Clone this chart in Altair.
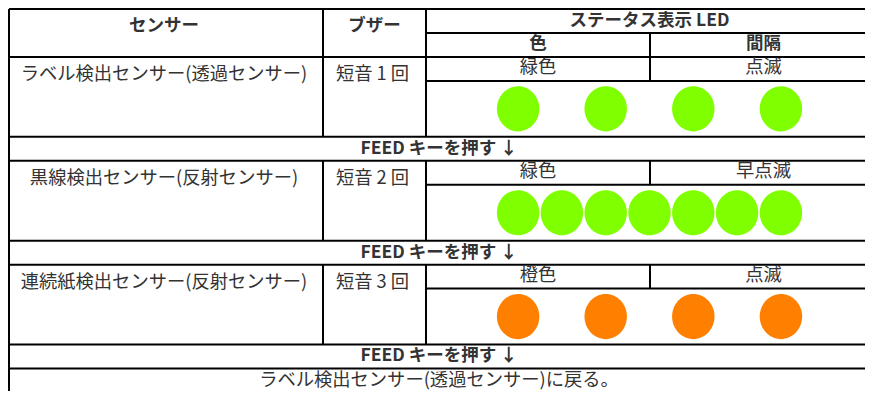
import altair as alt
import pandas as pd

# ---------------- data ----------------
header_sensor = "センサー"
header_buzzer = "ブザー"
header_led = "ステータス表示 LED"
header_color = "色"
header_interval = "間隔"

sensors = ["ラベル検出センサー(透過センサー)", "黒線検出センサー(反射センサー)", "連続紙検出センサー(反射センサー)"]
buzzers = ["短音 1 回", "短音 2 回", "短音 3 回"]
led_color_names = ["緑色", "緑色", "橙色"]
led_intervals = ["点滅", "早点滅", "点滅"]
led_fill = ["#80FF00", "#80FF00", "#FF8000"]
led_patterns = [[1, 0, 1, 0, 1, 0, 1], [1, 1, 1, 1, 1, 1, 1], [1, 0, 1, 0, 1, 0, 1]]
feed_text = "FEED キーを押す ↓"
final_text = "ラベル検出センサー(透過センサー)に戻る。"

# ---------------- layout (page pixels) ----------------
TABLE_LEFT = 5
BORDER_LEFT = 9
COL_B = 323
COL_C = 426
COL_SPLIT = 650
TABLE_RIGHT = 873
VIEW_RIGHT = 865
Y0 = 9
SMALL = 24.6
LED_H = 57.3
SLOT = 43.8
FONT = "Noto Sans CJK JP"
TXT = "#333333"

rules = []
texts_r = []
texts_b = []
dots = []

def hline(y, x1, x2):
    rules.append(dict(x=x1, x2=x2, y=y, y2=y))

def vline(x, y1, y2):
    rules.append(dict(x=x, x2=x, y=y1, y2=y2))

y = Y0
hline(y, BORDER_LEFT, VIEW_RIGHT)
y1 = y + SMALL
hline(y1, COL_C, VIEW_RIGHT)
y2 = y1 + SMALL
hline(y2, BORDER_LEFT, VIEW_RIGHT)
vline(COL_B, y, y2)
vline(COL_C, y, y2)
vline(COL_SPLIT, y1, y2)
texts_b.append(dict(x=(TABLE_LEFT + COL_B) / 2, y=y + 17, t=header_sensor))
texts_b.append(dict(x=(COL_B + COL_C) / 2, y=y + 17, t=header_buzzer))
texts_b.append(dict(x=(COL_C + TABLE_RIGHT) / 2, y=(y + y1) / 2 + 0.5, t=header_led))
texts_b.append(dict(x=(COL_C + COL_SPLIT) / 2, y=(y1 + y2) / 2 - 0.5, t=header_color))
texts_b.append(dict(x=(COL_SPLIT + TABLE_RIGHT) / 2 + 2, y=(y1 + y2) / 2 - 0.5, t=header_interval))

y = y2
for i in range(len(sensors)):
    top = y
    mid = top + SMALL
    bot = mid + LED_H
    hline(mid, COL_C, VIEW_RIGHT)
    vline(COL_B, top, bot)
    vline(COL_C, top, bot)
    vline(COL_SPLIT, top, mid)
    texts_r.append(dict(x=(TABLE_LEFT + COL_B) / 2, y=top + 18.5, t=sensors[i]))
    texts_r.append(dict(x=(COL_B + COL_C) / 2 - 2, y=top + 18.5, t=buzzers[i]))
    texts_r.append(dict(x=(COL_C + COL_SPLIT) / 2, y=(top + mid) / 2 - 1, t=led_color_names[i]))
    texts_r.append(dict(x=(COL_SPLIT + TABLE_RIGHT) / 2 + 2, y=(top + mid) / 2 - 1, t=led_intervals[i]))
    cx = (COL_C + TABLE_RIGHT) / 2
    for k, on in enumerate(led_patterns[i]):
        if on:
            dots.append(dict(x=cx + (k - 3) * SLOT, y=(mid + bot) / 2, c=led_fill[i]))
    hline(bot, BORDER_LEFT, VIEW_RIGHT)
    fb = bot + SMALL
    texts_b.append(dict(x=(TABLE_LEFT + TABLE_RIGHT) / 2, y=(bot + fb) / 2, t=feed_text))
    hline(fb, BORDER_LEFT, VIEW_RIGHT)
    y = fb

texts_r.append(dict(x=(TABLE_LEFT + TABLE_RIGHT) / 2, y=y + 12.9, t=final_text))
vline(BORDER_LEFT, Y0, 402)

xs = alt.Scale(domain=[8, VIEW_RIGHT], nice=False, zero=False)
ys = alt.Scale(domain=[8, 400.8], nice=False, zero=False, reverse=True)
X = alt.X("x:Q", scale=xs, axis=None)
Y = alt.Y("y:Q", scale=ys, axis=None)

rule_layer = alt.Chart(pd.DataFrame(rules)).mark_rule(color="#000000", strokeWidth=2).encode(
    x=X, x2="x2:Q", y=Y, y2="y2:Q"
)

ellipse = "M -0.94 0 A 0.94 1 0 1 0 0.94 0 A 0.94 1 0 1 0 -0.94 0 Z"
dot_layer = alt.Chart(pd.DataFrame(dots)).mark_point(
    shape=ellipse, size=2040, filled=True, opacity=1, strokeWidth=0
).encode(x=X, y=Y, color=alt.Color("c:N", scale=None, legend=None))

txt_r = alt.Chart(pd.DataFrame(texts_r)).mark_text(
    font=FONT, fontSize=18.3, color=TXT, baseline="middle", align="center"
).encode(x=X, y=Y, text="t:N")

txt_b = alt.Chart(pd.DataFrame(texts_b)).mark_text(
    font=FONT, fontSize=17.5, fontWeight="bold", color=TXT, baseline="middle", align="center"
).encode(x=X, y=Y, text="t:N")

chart = alt.layer(rule_layer, dot_layer, txt_r, txt_b).properties(
    width=857, height=383, autosize=alt.AutoSizeParams(type="none"), padding=0
).configure_view(stroke=None)

chart.save("out.html", embed_options={"renderer": "svg", "actions": False})
